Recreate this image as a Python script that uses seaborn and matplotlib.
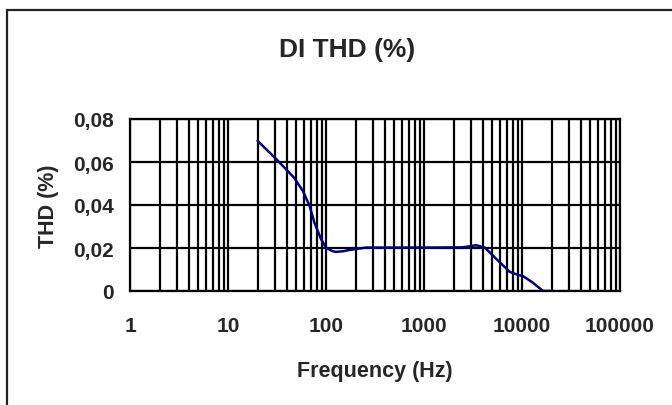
import numpy as np
import pandas as pd
import seaborn as sns
import matplotlib
matplotlib.use("Agg")
import matplotlib.pyplot as plt
from matplotlib.ticker import FixedLocator, FuncFormatter, NullFormatter, LogLocator
from matplotlib.patches import Rectangle

# values
freq_hz = [20, 31, 47, 58, 68, 76, 89, 100, 115, 126, 150, 174, 257, 1000, 2500,
           3400, 4170, 5500, 7500, 9100, 10200, 12900, 16400, 20000]
thd_pct = [0.0699, 0.0614, 0.0528, 0.0466, 0.0396, 0.0319, 0.0241, 0.0202, 0.0186, 0.0182, 0.0185, 0.0191, 0.0202, 0.0202, 0.0203,
           0.0213, 0.0202, 0.0148, 0.0089, 0.0075, 0.0070, 0.0039, 0.0, 0.0]
y_ticks = [0, 0.02, 0.04, 0.06, 0.08]
x_ticks = [1, 10, 100, 1000, 10000, 100000]

df = pd.DataFrame({"Frequency (Hz)": freq_hz, "THD (%)": thd_pct})

sns.set_style("white")
plt.rcParams["font.family"] = ["Liberation Sans", "DejaVu Sans"]
plt.rcParams["font.weight"] = "bold"

fig = plt.figure(figsize=(6.72, 4.06), dpi=100)
ax = fig.add_axes([130 / 672, 1 - 292 / 406, 490 / 672, 172 / 406])

sns.lineplot(data=df, x="Frequency (Hz)", y="THD (%)", ax=ax, color="#000080", linewidth=1.8)

ax.set_xscale("log")
ax.set_xlim(1, 100000)
ax.set_ylim(0, 0.08)
ax.xaxis.set_major_locator(FixedLocator(x_ticks))
ax.xaxis.set_minor_locator(LogLocator(base=10, subs=np.arange(2, 10)))
ax.xaxis.set_minor_formatter(NullFormatter())
ax.xaxis.set_major_formatter(FuncFormatter(lambda v, p: f"{int(round(v))}"))
ax.yaxis.set_major_locator(FixedLocator(y_ticks))
ax.yaxis.set_major_formatter(FuncFormatter(lambda v, p: "0" if v == 0 else f"{v:.2f}".replace(".", ",")))

ax.grid(True, which="major", axis="both", color="black", linewidth=1.6)
ax.grid(True, which="minor", axis="x", color="black", linewidth=1.6)
for s in ax.spines.values():
    s.set_color("black")
    s.set_linewidth(1.6)

ax.tick_params(axis="y", which="major", direction="inout", length=17, width=1.2, labelsize=15, pad=3)
ax.tick_params(axis="x", which="major", direction="inout", length=10, width=1.2, labelsize=15, pad=13)
ax.tick_params(axis="x", which="minor", length=0)

ax.set_xlabel("Frequency (Hz)", fontsize=15.5, fontweight="bold", labelpad=18)
ax.set_ylabel("THD (%)", fontsize=15.5, fontweight="bold", labelpad=10)
fig.text(347 / 672, 1 - 57 / 406, "DI THD (%)", ha="center", va="baseline", fontsize=19, fontweight="bold")

fig.patches.append(Rectangle((7 / 672, -0.1), 1.2, 1.1 - 11 / 406, transform=fig.transFigure,
                             fill=False, edgecolor="#222222", linewidth=1.6))

fig.savefig("out.png", dpi=100)
